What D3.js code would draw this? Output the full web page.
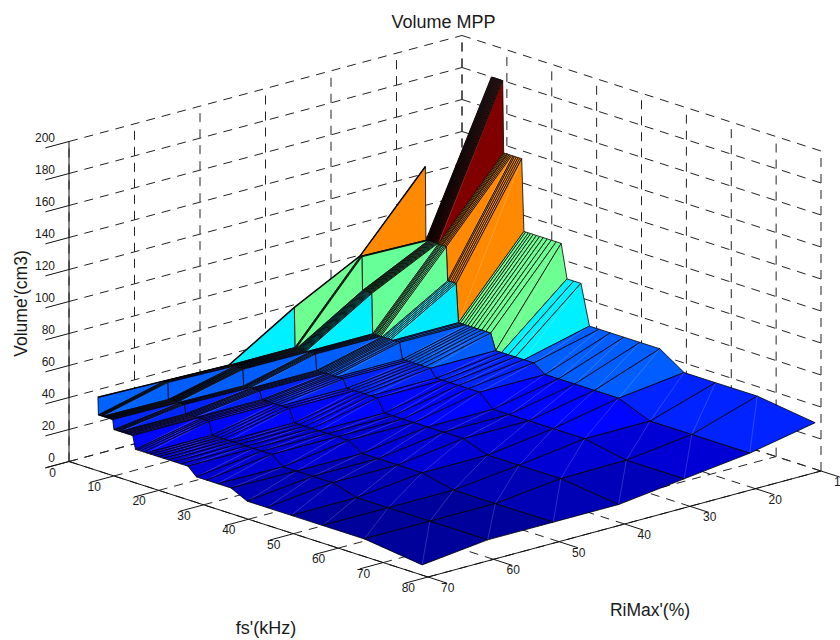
<!DOCTYPE html>
<html>
<head>
<meta charset="utf-8">
<script src="https://cdn.jsdelivr.net/npm/d3@7"></script>
<style>
  html, body { margin: 0; padding: 0; background: #fff; overflow: hidden; }
  text { font-family: "Liberation Sans", Arial, sans-serif; fill: #1a1a1a; }
</style>
</head>
<body>
<svg width="840" height="640"></svg>
<script>
// axis ticks
var fsTicks = [0, 10, 20, 30, 40, 50, 60, 70, 80];
var riTicks = [10, 20, 30, 40, 50, 60, 70];
var zTicks = [0, 20, 40, 60, 80, 100, 120, 140, 160, 180, 200];

// surface samples, fs'(kHz) ascending
var fsValues = [6.44, 6.55, 6.66, 6.77, 6.89, 7.01, 7.13, 7.26, 7.40, 7.54, 7.68, 7.83, 7.99, 8.15, 8.32, 8.50, 8.68, 8.87, 9.07,
  9.29, 9.51, 9.74, 10.0, 10.2, 10.5, 10.8, 11.1, 11.4, 11.7, 12.1, 12.5, 12.9, 13.3, 13.8, 14.2, 14.8, 15.3, 15.9, 16.6, 17.3,
  18.1, 19.0, 19.9, 21.0, 22.1, 23.4, 24.9, 26.5, 28.4, 30.6, 33.1, 36.1, 39.7, 44.1, 49.5, 56.5, 65.8, 78.7];
var riValues = [10, 20, 30, 40, 50, 60, 70];

// Volume'(cm3), one list per RiMax', same order as fsValues. null = no point there
var volRi10 = [null,180,180,180,180,180,180,180,180,180,180,180,180,180,180,180,180,180,180,
  135,135,135,135,135,135,135,135,135,135,135,135,135,135,
  90,90,90,90,90,90,90,90,90,90,90,90, 69,69,69, 44,44,44,44,44,44, 34,34,34, 29];
var volRi20 = [135,
  89,89,89,89,89,89,89,89,89,89,89,89,89,89,89,89,89,89,89,89,89,89,89,89,89,89,
  68,68,68,68,68,68, 44,44,44,44,44,44,44,44,44,44,44, 34,34,34,34,34,34, 29,29,29,29,29, 21,21,21];
var volRi30 = [90,90,90,90,90,
  69,69,69,69,69,69,69,69,69,69,69,69,69,69,
  44,44,44,44,44,44,44,44,44,44,44,44,44,44,44,44,44,44,
  34,34,34,34,34,34,34,34, 29,29,29,29,29,29, 21,21,21,21,21, 16,16];
var volRi40 = [69,
  44,44,44,44,44,44,44,44,44,44,44,44,44,44,44,44,44,44,44,44,44,44,44,44,44,44,
  34,34,34,34,34,34,34,34,34,34,34,34,34, 29,29,29,29,29,29,29, 21,21,21,21,21,21,21, 15.5,15.5,15.5, 11];
var volRi50 = [44,44,44,44,44,44,44,44,44,44,44,44,44,44,44,44,44,44,44,44,44,
  34,34,34,34,34,34,34,34,34,34,34,34, 29,29,29,29,29,29,29,29,29,29,
  21,21,21,21,21,21,21,21, 15.5,15.5,15.5,15.5, 11,11,11];
var volRi60 = [45,45,45,45,45,45,45,45,45,
  34.5,34.5,34.5,34.5,34.5,34.5,34.5,34.5,34.5,34.5,34.5,34.5,34.5,34.5,34.5,34.5,34.5,34.5,
  29,29,29,29,29,29,29,29,29,29,29,29, 21,21,21,21,21,21,21,21,21,21,21, 15.5,15.5,15.5,15.5, 11,11,11,11];
var volRi70 = [46,
  35,35,35,35,35,35,35,35,35,35,35,35,35,35,35,35,35,35,35,35,35,
  29,29,29,29,29,29,29,29,29,29,29,29,29, 21,21,21,21,21,21,21,21,21,21,21,21,21, 16,16,16,16, 11,11,11,11,11, 6.4];
var volumes = [volRi10, volRi20, volRi30, volRi40, volRi50, volRi60, volRi70];

// projection: MATLAB view is orthographic so three linear scales are enough
var originX = 69, originY = 461.5;
var fsX = d3.scaleLinear().domain([0, 80]).range([0, 359]);
var fsY = d3.scaleLinear().domain([0, 80]).range([0, 115.5]);
var riX = d3.scaleLinear().domain([70, 10]).range([0, 393]);
var riY = d3.scaleLinear().domain([70, 10]).range([0, -106]);
var zY = d3.scaleLinear().domain([0, 200]).range([0, -320]);

function project(fs, ri, z) {
  return [originX + fsX(fs) + riX(ri), originY + fsY(fs) + riY(ri) + zY(z)];
}

// jet colormap
var jet = d3.scaleLinear()
  .domain([0, 0.125, 0.375, 0.625, 0.875, 1])
  .range(["rgb(0,0,128)", "rgb(0,0,255)", "rgb(0,255,255)", "rgb(255,255,0)", "rgb(255,0,0)", "rgb(128,0,0)"])
  .clamp(true);
var colorScale = d3.scaleLinear().domain([6.4, 180]).range([0, 1]);

var svg = d3.select("svg");
var line = d3.line();

// dashed grid on the two back walls and the floor
var gridSegments = [];
zTicks.forEach(function(z) {
  gridSegments.push([project(0, 70, z), project(0, 10, z)]);
  gridSegments.push([project(0, 10, z), project(80, 10, z)]);
});
riTicks.forEach(function(ri) {
  gridSegments.push([project(0, ri, 0), project(0, ri, 200)]);
  gridSegments.push([project(0, ri, 0), project(80, ri, 0)]);
});
fsTicks.forEach(function(fs) {
  gridSegments.push([project(fs, 10, 0), project(fs, 10, 200)]);
  gridSegments.push([project(fs, 70, 0), project(fs, 10, 0)]);
});

svg.append("g").selectAll("path")
  .data(gridSegments)
  .enter()
  .append("path")
  .attr("d", function(d) { return line(d); })
  .style("fill", "none")
  .style("stroke", "#222")
  .style("stroke-width", "1px")
  .style("stroke-dasharray", "9,7");

// solid axes
var axisSegments = [
  [project(0, 70, 0), project(0, 70, 200)],
  [project(0, 70, 0), project(80, 70, 0)],
  [project(80, 70, 0), project(80, 10, 0)]
];
zTicks.forEach(function(z) {
  axisSegments.push([project(0, 70, z), project(0, 70 + 3.6, z)]);
});
fsTicks.forEach(function(fs) {
  axisSegments.push([project(fs, 70, 0), project(fs, 70 + 3.6, 0)]);
});
riTicks.forEach(function(ri) {
  axisSegments.push([project(80, ri, 0), project(80 + 4.2, ri, 0)]);
});

svg.append("g").selectAll("path")
  .data(axisSegments)
  .enter()
  .append("path")
  .attr("d", function(d) { return line(d); })
  .style("fill", "none")
  .style("stroke", "#111")
  .style("stroke-width", "1px");

// faces back to front, colour comes from the first corner like shading flat
var faces = [];
for (var i = 0; i < fsValues.length - 1; i++) {
  for (var j = 0; j < riValues.length - 1; j++) {
    var v = [volumes[j][i], volumes[j][i + 1], volumes[j + 1][i + 1], volumes[j + 1][i]];
    if (v.indexOf(null) >= 0) continue;
    faces.push({
      corners: [
        project(fsValues[i], riValues[j], v[0]),
        project(fsValues[i + 1], riValues[j], v[1]),
        project(fsValues[i + 1], riValues[j + 1], v[2]),
        project(fsValues[i], riValues[j + 1], v[3])
      ],
      value: v[0]
    });
  }
}

var faceGroups = svg.append("g").selectAll("g")
  .data(faces)
  .enter()
  .append("g");

faceGroups.append("path")
  .attr("d", function(d) { return line(d.corners) + "Z"; })
  .style("fill", function(d) { return jet(colorScale(d.value)); })
  .style("stroke", "none");

// pale seam along one diagonal of each face
faceGroups.append("path")
  .attr("d", function(d) { return line([d.corners[0], d.corners[2]]); })
  .style("fill", "none")
  .style("stroke", "rgba(255,255,255,0.3)")
  .style("stroke-width", "0.6px");

faceGroups.append("path")
  .attr("d", function(d) { return line(d.corners) + "Z"; })
  .style("fill", "none")
  .style("stroke", "#000")
  .style("stroke-width", "0.8px");

// heavier outline along the lowest fs edge
var backEdge = [];
riValues.forEach(function(ri, j) {
  if (volumes[j][0] !== null) backEdge.push(project(fsValues[0], ri, volumes[j][0]));
});
svg.append("path")
  .attr("d", line(backEdge))
  .style("fill", "none")
  .style("stroke", "#000")
  .style("stroke-width", "1.4px");

// tick labels
svg.append("g").selectAll("text")
  .data(zTicks)
  .enter()
  .append("text")
  .attr("x", function(d) { return project(0, 70, d)[0] - 14; })
  .attr("y", function(d) { return project(0, 70, d)[1] + 0.5; })
  .attr("text-anchor", "end")
  .style("font-size", "12px")
  .text(function(d) { return d; });

svg.append("g").selectAll("text")
  .data(fsTicks)
  .enter()
  .append("text")
  .attr("x", function(d) { return project(d, 70, 0)[0] - 13; })
  .attr("y", function(d) { return project(d, 70, 0)[1] + 15; })
  .attr("text-anchor", "end")
  .style("font-size", "12px")
  .text(function(d) { return d; });

svg.append("g").selectAll("text")
  .data(riTicks)
  .enter()
  .append("text")
  .attr("x", function(d) { return project(80, d, 0)[0] + 13; })
  .attr("y", function(d) { return project(80, d, 0)[1] + 15; })
  .attr("text-anchor", "start")
  .style("font-size", "12px")
  .text(function(d) { return d; });

// titles
svg.append("text").attr("x", 443.5).attr("y", 28).attr("text-anchor", "middle")
  .style("font-size", "18px").text("Volume MPP");
svg.append("text").attr("x", 650).attr("y", 616).attr("text-anchor", "middle")
  .style("font-size", "17.5px").text("RiMax'(%)");
svg.append("text").attr("x", 266).attr("y", 634).attr("text-anchor", "middle")
  .style("font-size", "18px").text("fs'(kHz)");
svg.append("text").attr("transform", "translate(27,303.5) rotate(-90)").attr("text-anchor", "middle")
  .style("font-size", "17.5px").text("Volume'(cm3)");
</script>
</body>
</html>
